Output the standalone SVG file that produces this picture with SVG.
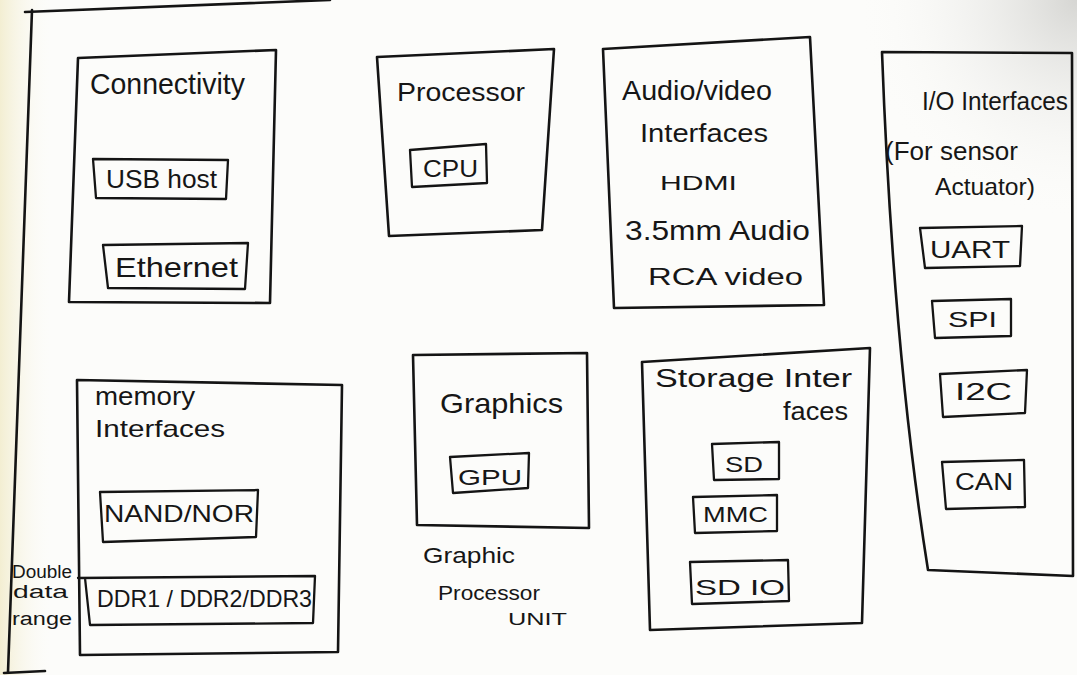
<svg xmlns="http://www.w3.org/2000/svg" width="1077" height="675" viewBox="0 0 1077 675">
<style>
.ln{fill:none;stroke:#141414;stroke-width:2.6;stroke-linejoin:round;stroke-linecap:round}
.bx{fill:none;stroke:#141414;stroke-width:2.3;stroke-linejoin:round;stroke-linecap:round}
text{font-family:"Liberation Sans","DejaVu Sans",sans-serif;fill:#161616}
</style>
<defs>
<linearGradient id="paperL" x1="0" y1="0" x2="1" y2="0">
<stop offset="0" stop-color="#f3eed2"/>
<stop offset="0.05" stop-color="#fdfdfb" stop-opacity="0"/>
</linearGradient>
<radialGradient id="paperR" cx="1077" cy="0" r="220" gradientUnits="userSpaceOnUse">
<stop offset="0" stop-color="#d6d6d3"/>
<stop offset="1" stop-color="#fcfcfa" stop-opacity="0"/>
</radialGradient>
</defs>
<rect width="1077" height="675" fill="#fcfcfa"/>
<rect width="1077" height="675" fill="url(#paperL)"/>
<rect width="1077" height="675" fill="url(#paperR)"/>

<g id="frame">
<path class="ln" d="M25,12 L330,0"/>
<path class="ln" d="M32,10 L8,672"/>
<path class="ln" d="M4,673 L45,671"/>
</g>

<g id="connectivity">
<polygon class="ln" points="78,58 276,50 270,303 69,302"/>
<text x="90" y="94" font-size="29" textLength="155" lengthAdjust="spacingAndGlyphs">Connectivity</text>
<polygon class="bx" points="93,159 228,160 226,199 96,198"/>
<text x="106" y="188" font-size="26" textLength="111" lengthAdjust="spacingAndGlyphs">USB host</text>
<polygon class="bx" points="103,245 248,243 245,289 108,288"/>
<text x="115" y="277" font-size="28" textLength="123" lengthAdjust="spacingAndGlyphs">Ethernet</text>
</g>

<g id="processor">
<polygon class="ln" points="377,57 554,49 542,230 389,236"/>
<text x="397" y="101" font-size="26" textLength="128" lengthAdjust="spacingAndGlyphs">Processor</text>
<polygon class="bx" points="410,150 486,144 487,183 412,187"/>
<text x="423" y="177" font-size="24" textLength="55" lengthAdjust="spacingAndGlyphs">CPU</text>
</g>

<g id="audio-video">
<polygon class="ln" points="603,49 810,37 824,305 614,308"/>
<text x="622" y="100" font-size="28" textLength="150" lengthAdjust="spacingAndGlyphs">Audio/video</text>
<text x="640" y="142" font-size="26" textLength="128" lengthAdjust="spacingAndGlyphs">Interfaces</text>
<text x="660" y="190" font-size="21" textLength="77" lengthAdjust="spacingAndGlyphs">HDMI</text>
<text x="625" y="240" font-size="27" textLength="185" lengthAdjust="spacingAndGlyphs">3.5mm Audio</text>
<text x="648" y="285" font-size="24" textLength="155" lengthAdjust="spacingAndGlyphs">RCA video</text>
</g>

<g id="io-interfaces">
<path class="ln" d="M882,52 L1072,53 L1073,576 L928,570 Q893,350 882,52 Z"/>
<text x="922" y="110" font-size="25" textLength="146" lengthAdjust="spacingAndGlyphs">I/O Interfaces</text>
<text x="885" y="160" font-size="25" textLength="133" lengthAdjust="spacingAndGlyphs">(For sensor</text>
<text x="935" y="195" font-size="24" textLength="100" lengthAdjust="spacingAndGlyphs">Actuator)</text>
<polygon class="bx" points="920,228 1022,226 1020,266 925,268"/>
<text x="930" y="258" font-size="24" textLength="80" lengthAdjust="spacingAndGlyphs">UART</text>
<polygon class="bx" points="932,301 1011,299 1011,336 935,338"/>
<text x="948" y="327" font-size="22" textLength="49" lengthAdjust="spacingAndGlyphs">SPI</text>
<polygon class="bx" points="940,374 1027,370 1025,413 943,417"/>
<text x="955" y="400" font-size="24" textLength="57" lengthAdjust="spacingAndGlyphs">I2C</text>
<polygon class="bx" points="942,462 1024,460 1025,507 946,509"/>
<text x="955" y="490" font-size="24" textLength="58" lengthAdjust="spacingAndGlyphs">CAN</text>
</g>

<g id="memory-interfaces">
<polygon class="ln" points="77,380 342,385 338,652 80,655"/>
<text x="95" y="405" font-size="26" textLength="100" lengthAdjust="spacingAndGlyphs">memory</text>
<text x="95" y="437" font-size="24" textLength="130" lengthAdjust="spacingAndGlyphs">Interfaces</text>
<polygon class="bx" points="100,492 258,490 256,537 103,542"/>
<text x="104" y="522" font-size="24" textLength="150" lengthAdjust="spacingAndGlyphs">NAND/NOR</text>
<polygon class="bx" points="78,578 315,576 313,623 90,625 85,578"/>
<text x="97" y="607" font-size="24" textLength="215" lengthAdjust="spacingAndGlyphs">DDR1 / DDR2/DDR3</text>
</g>

<g id="ddr-note">
<text x="12" y="578" font-size="18" textLength="60" lengthAdjust="spacingAndGlyphs">Double</text>
<text x="13" y="598" font-size="18" textLength="55" lengthAdjust="spacingAndGlyphs">data</text>
<text x="12" y="625" font-size="18" textLength="60" lengthAdjust="spacingAndGlyphs">range</text>
</g>

<g id="graphics">
<polygon class="ln" points="413,355 587,353 589,528 417,525"/>
<text x="440" y="413" font-size="28" textLength="123" lengthAdjust="spacingAndGlyphs">Graphics</text>
<polygon class="bx" points="450,457 529,453 528,488 453,493"/>
<text x="458" y="485" font-size="22" textLength="64" lengthAdjust="spacingAndGlyphs">GPU</text>
</g>

<g id="gpu-note">
<text x="423" y="563" font-size="22" textLength="92" lengthAdjust="spacingAndGlyphs">Graphic</text>
<text x="438" y="600" font-size="20" textLength="102" lengthAdjust="spacingAndGlyphs">Processor</text>
<text x="508" y="625" font-size="16" textLength="59" lengthAdjust="spacingAndGlyphs">UNIT</text>
</g>

<g id="storage-interfaces">
<polygon class="ln" points="642,362 870,348 862,623 650,630"/>
<text x="655" y="387" font-size="26" textLength="197" lengthAdjust="spacingAndGlyphs">Storage Inter</text>
<text x="783" y="420" font-size="26" textLength="65" lengthAdjust="spacingAndGlyphs">faces</text>
<polygon class="bx" points="712,444 779,442 779,479 714,480"/>
<text x="725" y="472" font-size="22" textLength="38" lengthAdjust="spacingAndGlyphs">SD</text>
<polygon class="bx" points="693,497 777,495 777,531 695,533"/>
<text x="703" y="522" font-size="22" textLength="65" lengthAdjust="spacingAndGlyphs">MMC</text>
<polygon class="bx" points="690,562 788,560 789,601 692,604"/>
<text x="695" y="595" font-size="22" textLength="90" lengthAdjust="spacingAndGlyphs">SD IO</text>
</g>

<g id="connectors"/>
</svg>
